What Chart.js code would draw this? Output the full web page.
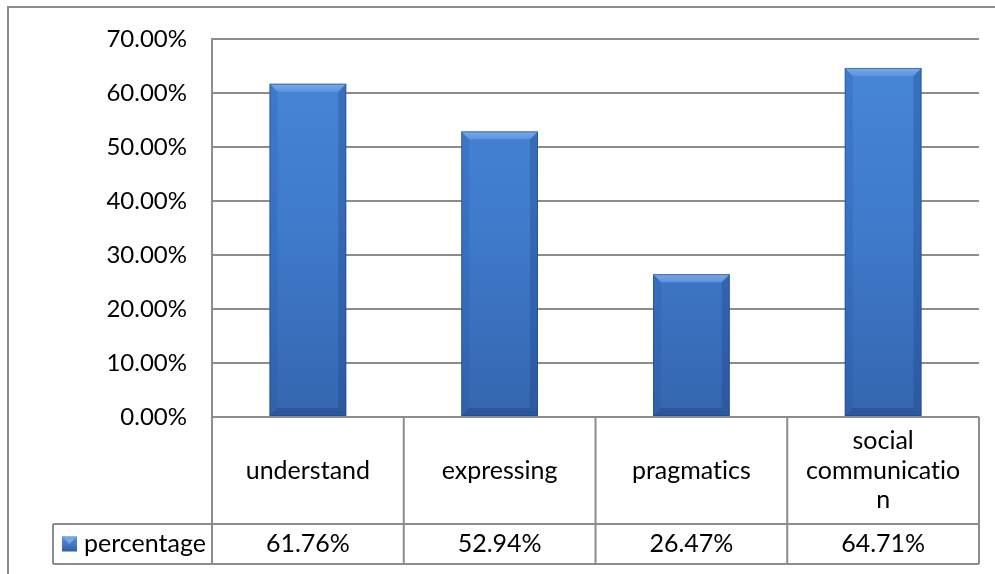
<!DOCTYPE html>
<html>
<head>
<meta charset="utf-8">
<script src="https://cdn.jsdelivr.net/npm/chart.js@4"></script>
<style>
  html, body { margin: 0; padding: 0; background: #fff; }
  #wrap { width: 995px; height: 574px; position: relative; }
</style>
</head>
<body>
<div id="wrap"><canvas id="barChart"></canvas></div>
<script>
// chart data
const categories = ['understand', 'expressing', 'pragmatics', ['social', 'communicatio', 'n']];
const seriesName = 'percentage';
const percentages = [0.6176, 0.5294, 0.2647, 0.6471];
const yTicks = [0, 0.1, 0.2, 0.3, 0.4, 0.5, 0.6, 0.7];

const FONT = 'Lato, "Open Sans", sans-serif';
const FONT_SIZE = 24;
const TABLE_FONT_SIZE = 25;
const GRID = '#8c8c8c';

const fmtPct = (v) => (v * 100).toFixed(2) + '%';
// Lato joins "ti" into a ligature; a zero-width non-joiner keeps the letters apart
const noLig = (s) => s.replace(/ti/g, 't\u200Ci');

// bar face: darker towards the bottom
const barFill = (context) => {
  const { chart } = context;
  const area = chart.chartArea;
  if (!area) return '#4281d4';
  const g = chart.ctx.createLinearGradient(0, area.top, 0, area.bottom);
  g.addColorStop(0, '#4887d8');
  g.addColorStop(0.5, '#3f7acb');
  g.addColorStop(1, '#3566b0');
  return g;
};

// draw the bevel edges on top of each bar
const bevelPlugin = {
  id: 'bevel',
  afterDatasetsDraw(chart) {
    const { ctx } = chart;
    const meta = chart.getDatasetMeta(0);
    const b = 8;
    meta.data.forEach((bar) => {
      const { x, y, base, width } = bar.getProps(['x', 'y', 'base', 'width'], true);
      const l = x - width / 2, r = x + width / 2, t = y, bot = base;
      ctx.save();
      const poly = (pts, fill) => {
        ctx.beginPath();
        ctx.moveTo(pts[0][0], pts[0][1]);
        for (let i = 1; i < pts.length; i++) ctx.lineTo(pts[i][0], pts[i][1]);
        ctx.closePath();
        ctx.fillStyle = fill;
        ctx.fill();
      };
      const topG = ctx.createLinearGradient(0, t, 0, t + b);
      topG.addColorStop(0, '#7aaae8');
      topG.addColorStop(1, '#5b93dd');
      poly([[l, t], [r, t], [r - b, t + b], [l + b, t + b]], topG);
      poly([[l, t], [l + b, t + b], [l + b, bot - b], [l, bot]], 'rgba(30,70,140,0.15)');
      poly([[r, t], [r - b, t + b], [r - b, bot - b], [r, bot]], 'rgba(20,50,110,0.25)');
      poly([[l, bot], [l + b, bot - b], [r - b, bot - b], [r, bot]], 'rgba(20,50,110,0.30)');
      ctx.strokeStyle = 'rgba(30,70,140,0.55)';
      ctx.lineWidth = 1;
      ctx.strokeRect(l + 0.5, t + 0.5, width - 1, bot - t - 1);
      ctx.restore();
    });
  }
};

// outer chart border
const framePlugin = {
  id: 'frame',
  beforeDraw(chart) {
    const { ctx, width, height } = chart;
    ctx.save();
    ctx.fillStyle = '#fff';
    ctx.fillRect(0, 0, width, height);
    ctx.strokeStyle = GRID;
    ctx.lineWidth = 2;
    ctx.beginPath();
    ctx.moveTo(8, height);
    ctx.lineTo(8, 7);
    ctx.lineTo(width, 7);
    ctx.stroke();
    ctx.restore();
  }
};

// data table under the plot
const tablePlugin = {
  id: 'dataTable',
  afterDraw(chart) {
    const { ctx, chartArea } = chart;
    const xs = chart.scales.x;
    const n = categories.length;
    const left = chartArea.left, right = chartArea.right;
    const top = chartArea.bottom;
    const mid = top + 107;
    const bottom = top + 147;
    const legendLeft = 53;
    const colW = (right - left) / n;

    ctx.save();
    ctx.strokeStyle = GRID;
    ctx.lineWidth = 2;
    ctx.beginPath();
    ctx.moveTo(left, top); ctx.lineTo(right, top);
    ctx.moveTo(legendLeft, mid); ctx.lineTo(right, mid);
    ctx.moveTo(legendLeft, bottom); ctx.lineTo(right, bottom);
    ctx.moveTo(legendLeft, mid); ctx.lineTo(legendLeft, bottom);
    for (let i = 0; i <= n; i++) {
      const cx = left + i * colW;
      ctx.moveTo(cx, top); ctx.lineTo(cx, bottom);
    }
    ctx.stroke();

    ctx.fillStyle = '#000';
    ctx.font = TABLE_FONT_SIZE + 'px ' + FONT;
    ctx.textAlign = 'center';
    ctx.textBaseline = 'middle';
    const lh = 29.5;
    categories.forEach((cat, i) => {
      const cx = xs.getPixelForValue(i);
      const lines = Array.isArray(cat) ? cat : [cat];
      const cy = (top + mid) / 2 - (lines.length - 1) * lh / 2;
      lines.forEach((ln, j) => ctx.fillText(noLig(ln), cx, cy + j * lh));
      ctx.fillText(fmtPct(percentages[i]), cx, (mid + bottom) / 2);
    });

    // legend key + series name
    const ky = (mid + bottom) / 2;
    const k = 15, kx = 62;
    const kg = ctx.createLinearGradient(0, ky - k / 2, 0, ky + k / 2);
    kg.addColorStop(0, '#5b93dd');
    kg.addColorStop(1, '#2f5fa6');
    ctx.fillStyle = kg;
    ctx.fillRect(kx, ky - k / 2, k, k);
    ctx.fillStyle = '#77a6e6';
    ctx.beginPath();
    ctx.moveTo(kx, ky - k / 2); ctx.lineTo(kx + k, ky - k / 2);
    ctx.lineTo(kx + k / 2, ky); ctx.closePath();
    ctx.fill();
    ctx.fillStyle = '#000';
    ctx.textAlign = 'left';
    ctx.fillText(seriesName, kx + k + 7, ky);
    ctx.restore();
  }
};

new Chart(document.getElementById('barChart'), {
  type: 'bar',
  data: {
    labels: categories.map((c) => (Array.isArray(c) ? c.join(' ') : c)),
    datasets: [{
      label: seriesName,
      data: percentages,
      backgroundColor: barFill,
      borderWidth: 0,
      categoryPercentage: 1,
      barPercentage: 0.4,
    }],
  },
  options: {
    responsive: true,
    maintainAspectRatio: false,
    animation: false,
    layout: { padding: { top: 37, right: 16, bottom: 157, left: 0 } },
    plugins: { legend: { display: false }, tooltip: { enabled: false } },
    scales: {
      x: { display: false },
      y: {
        min: 0,
        max: 0.7,
        afterBuildTicks: (scale) => { scale.ticks = yTicks.map((v) => ({ value: v })); },
        afterFit: (scale) => { scale.width = 212; },
        ticks: {
          callback: (v) => fmtPct(v),
          color: '#000',
          padding: 25,
          font: { family: FONT, size: FONT_SIZE },
        },
        grid: { color: GRID, lineWidth: 2, drawTicks: false },
        border: { display: true, color: GRID, width: 2 },
      },
    },
  },
  plugins: [framePlugin, tablePlugin, bevelPlugin],
});
</script>
</body>
</html>
